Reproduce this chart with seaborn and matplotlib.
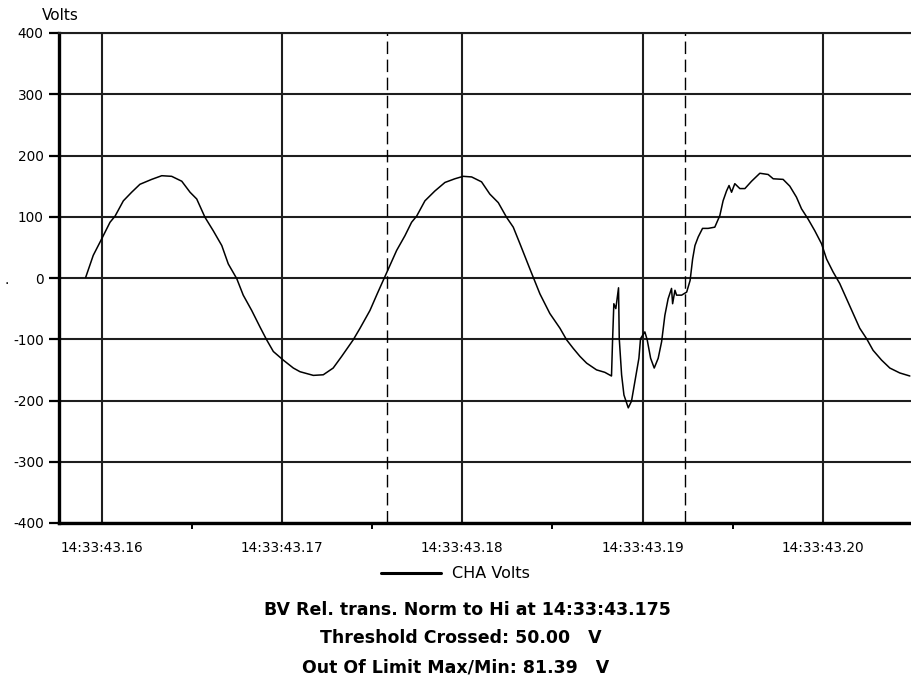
import pandas as pd
import matplotlib
matplotlib.use("Agg")
import matplotlib.pyplot as plt
import seaborn as sns
from matplotlib.ticker import FixedLocator

# ---- data (time in ms after 14:33:43, volts) ----
t_ms = [159.11, 159.53, 160.00, 160.46, 160.74, 161.20, 161.66, 162.12, 162.77, 163.33,
        163.88, 164.44, 164.90, 165.27, 165.73, 166.19, 166.66, 167.02, 167.49, 167.85,
        168.32, 168.78, 169.15, 169.52, 170.07, 170.63, 171.00, 171.74, 172.29, 172.84,
        173.31, 173.95, 174.33, 174.88, 175.28, 175.66, 175.99, 176.36, 176.82, 177.19,
        177.47, 177.93, 178.48, 179.04, 179.59, 180.05, 180.52, 181.07, 181.53, 182.00,
        182.46, 182.83, 183.20, 183.75, 184.31, 184.86, 185.42, 185.79, 186.16, 186.53,
        186.90, 187.45, 187.91, 188.28, 188.34, 188.41, 188.52, 188.67, 188.71, 188.84,
        188.97, 189.21, 189.39, 189.58, 189.80, 189.89, 190.13, 190.26, 190.45, 190.65,
        190.87, 191.06, 191.24, 191.42, 191.61, 191.67, 191.80, 191.89, 192.17, 192.45,
        192.64, 192.78, 192.91, 193.09, 193.33, 193.64, 194.01, 194.29, 194.47, 194.66,
        194.80, 194.94, 195.12, 195.40, 195.68, 196.05, 196.51, 196.97, 197.25, 197.80,
        198.17, 198.54, 198.82, 199.19, 199.56, 199.93, 200.21, 200.57, 200.94, 201.32,
        201.68, 202.05, 202.43, 202.79, 203.26, 203.72, 204.27, 204.83]
volts = [1, 37, 64, 91, 101, 126, 140, 153, 161, 167,
         166, 158, 140, 129, 99, 77, 53, 23, -1, -28,
         -53, -80, -101, -120, -134, -147, -153, -159, -158, -147,
         -128, -101, -82, -53, -26, -1, 21, 45, 69, 91,
         101, 126, 142, 156, 162, 166, 165, 157, 137, 123,
         99, 83, 56, 15, -26, -58, -82, -101, -115, -128,
         -139, -150, -154, -160, -101, -42, -50, -16, -99, -158,
         -191, -212, -201, -169, -131, -99, -88, -101, -131, -147,
         -131, -104, -61, -34, -17, -42, -20, -28, -28, -23,
         -4, 31, 53, 67, 81, 81, 83, 102, 126, 142,
         151, 140, 154, 146, 146, 158, 171, 169, 162, 161,
         150, 132, 113, 96, 77, 56, 31, 10, -9, -34,
         -58, -82, -99, -118, -134, -147, -155, -160]

major_ticks = [160, 170, 180, 190, 200]
minor_ticks = [165, 175, 185, 195]
y_ticks = [-400, -300, -200, -100, 0, 100, 200, 300, 400]
trigger_ms = [175.81, 192.35]

info_lines = ["BV Rel. trans. Norm to Hi at 14:33:43.175",
              "Threshold Crossed: 50.00   V",
              "Out Of Limit Max/Min: 81.39   V"]

df = pd.DataFrame({"t": t_ms, "v": volts})

sns.set_style("white")
plt.rcParams["font.family"] = ["DejaVu Sans"]
plt.rcParams["text.color"] = "black"
plt.rcParams["xtick.color"] = "black"
plt.rcParams["ytick.color"] = "black"
plt.rcParams["axes.labelcolor"] = "black"

fig = plt.figure(figsize=(9.12, 6.8), dpi=100)
ax = fig.add_axes([59 / 912, 1 - 523 / 680, 1 - 59 / 912, (523 - 33) / 680])

# grid + trigger markers under the trace
ax.grid(True, color="#1e1e1e", linewidth=1.5)
ax.set_axisbelow(True)
for tm in trigger_ms:
    ax.axvline(tm, color="black", linewidth=1.0, linestyle=(0, (9, 4)), zorder=1.5)

sns.lineplot(data=df, x="t", y="v", sort=False, estimator=None, color="black",
             linewidth=1.1, label="CHA Volts", ax=ax, zorder=3)

ax.set_xlim(157.63, 204.95)
ax.set_ylim(-400, 400)
ax.xaxis.set_major_locator(FixedLocator(major_ticks))
ax.xaxis.set_minor_locator(FixedLocator(minor_ticks))
ax.set_xticklabels([f"14:33:43.{t // 10:02d}" for t in major_ticks])
ax.set_yticks(y_ticks)
ax.set_yticklabels([str(v) for v in y_ticks])
ax.tick_params(axis="x", which="major", direction="out", length=7, width=1.6,
               pad=6, labelsize=9.8, color="black", labelcolor="black")
ax.tick_params(axis="x", which="minor", direction="out", length=4, width=1.4,
               color="black", bottom=True)
ax.tick_params(axis="y", direction="out", length=7, width=1.6, pad=4,
               labelsize=9.8, color="black", labelcolor="black", left=True)
ax.set_xlabel("")
ax.set_ylabel("")

for side in ["left", "bottom"]:
    ax.spines[side].set_linewidth(2.4)
    ax.spines[side].set_color("black")
ax.spines["top"].set_linewidth(1.5)
ax.spines["top"].set_color("#1e1e1e")
ax.spines["right"].set_visible(False)

ax.legend(loc="center", bbox_to_anchor=(0.4995, 1 - 574 / 680),
          bbox_transform=fig.transFigure, frameon=False, fontsize=11.5,
          handlelength=3.7, handletextpad=0.7, labelcolor="black")
leg = ax.get_legend()
for line in leg.get_lines():
    line.set_linewidth(2.2)

fig.text(60 / 912, 1 - 16 / 680, "Volts", ha="center", va="center", fontsize=11)
fig.text(7 / 912, 1 - 280 / 680, ".", ha="center", va="center", fontsize=10)

line_x = [467, 461, 456]
line_y = [610, 638, 667]
for txt, lx, ly in zip(info_lines, line_x, line_y):
    fig.text(lx / 912, 1 - ly / 680, txt, ha="center", va="center",
             fontsize=12.5, fontweight="bold")

fig.savefig("out.png", dpi=100)
